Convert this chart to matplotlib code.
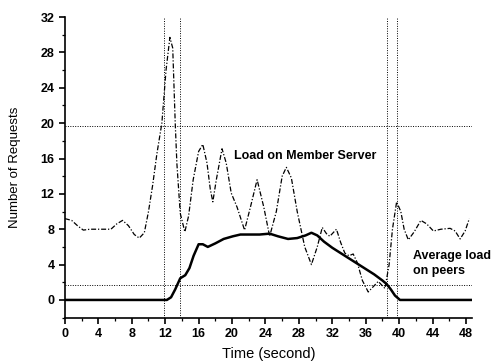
import numpy as np
import matplotlib.pyplot as plt

plt.rcParams['font.family'] = ['Liberation Sans', 'DejaVu Sans']

# Load on member server (dash line)
member_t = [0, 0.8, 1.5, 2.2, 3.0, 4.0, 5.5, 6.2, 6.9, 7.6, 8.3, 8.9, 9.5, 10.0,
            10.5, 11.0, 11.6, 12.1, 12.56, 12.9, 13.2, 13.4, 13.8, 14.35, 14.8,
            15.35, 16.0, 16.5, 17.0, 17.4, 17.7, 18.1, 18.8, 19.3, 19.9, 20.6,
            21.5, 22.2, 23.0, 23.8, 24.5, 25.3, 26.0, 26.5, 27.1, 27.8, 28.7,
            29.5, 30.2, 30.8, 31.3, 31.7, 32.1, 32.5, 33.0, 33.5, 34.0, 34.5,
            35.0, 35.6, 36.3, 36.9, 37.5, 38.0, 38.3, 38.8, 39.2, 39.7, 40.2,
            40.6, 41.1, 41.8, 42.6, 43.3, 44.1, 45.0, 46.1, 46.7, 47.3, 47.9, 48.4]
member_load = [9.2, 9.0, 8.4, 7.9, 8.0, 8.0, 8.0, 8.6, 9.0, 8.4, 7.4, 7.0, 7.6, 10.0,
               13.0, 16.5, 20.0, 26.0, 29.7, 28.5, 20.0, 15.4, 9.8, 7.7, 9.5,
               13.6, 16.8, 17.6, 15.5, 12.5, 11.1, 13.5, 17.1, 15.5, 12.1, 10.5,
               7.9, 10.5, 13.6, 10.5, 7.2, 10.0, 14.0, 15.0, 13.8, 10.0, 6.0,
               4.0, 6.0, 8.2, 7.5, 7.2, 7.6, 8.0, 6.5, 5.3, 5.0, 5.2,
               4.2, 2.2, 0.9, 1.5, 2.1, 1.6, 1.3, 4.0, 8.0, 11.1, 10.0,
               8.0, 6.8, 7.7, 9.0, 8.6, 7.8, 8.0, 8.1, 7.8, 6.9, 7.8, 9.2]

# Average load on peers (solid line)
peer_t = [0, 12.2, 12.7, 13.2, 13.8, 14.4, 14.9, 15.4, 16.0, 16.5, 17.1, 18.0,
          19.0, 20.1, 21.0, 22.0, 23.3, 24.5, 25.5, 26.7, 27.8, 28.8, 29.5,
          30.2, 31.0, 32.0, 33.0, 34.0, 35.0, 36.0, 37.0, 38.0, 38.5, 39.0,
          39.5, 40.1, 49.0]
peer_load = [0, 0, 0.3, 1.2, 2.45, 2.8, 3.6, 5.0, 6.3, 6.3, 6.0, 6.4,
             6.9, 7.2, 7.4, 7.4, 7.4, 7.5, 7.2, 6.9, 7.0, 7.3, 7.6,
             7.3, 6.6, 5.9, 5.3, 4.7, 4.1, 3.5, 2.9, 2.2, 1.8, 1.2,
             0.5, 0, 0]

# dotted guide lines
vlines = [11.9, 13.8, 38.6, 39.8]
hlines = [19.7, 1.7]

fig = plt.figure(figsize=(4.92, 3.63), dpi=100)
ax = fig.add_axes([0.132, 0.125, 0.827, 0.828])

for x in vlines:
    ax.axvline(x, color='black', lw=0.7, ls=(0, (1, 1.5)))
for y in hlines:
    ax.axhline(y, color='black', lw=0.7, ls=(0, (1, 1.5)))

ax.plot(member_t, member_load, color='black', lw=0.9, ls=(0, (4, 1.5, 1, 1.5)))
ax.plot(peer_t, peer_load, color='black', lw=1.8)

ax.text(20.2, 16.3, 'Load on Member Server', fontsize=9, fontweight='bold', va='center')
ax.text(41.7, 4.1, 'Average load\non peers', fontsize=9, fontweight='bold',
        va='center', linespacing=1.35)

ax.set_xlim(0, 48.7)
ax.set_ylim(-2, 32)
ax.set_xticks(np.arange(0, 49, 4))
ax.set_xticks(np.arange(0, 49, 2), minor=True)
ax.set_yticks(np.arange(0, 33, 4))
ax.set_yticks(np.arange(-2, 33, 2), minor=True)
ax.spines['top'].set_visible(False)
ax.spines['right'].set_visible(False)
ax.spines['left'].set_linewidth(1.2)
ax.spines['bottom'].set_linewidth(1.2)
ax.tick_params(which='major', length=4, width=1.2, labelsize=9)
ax.tick_params(which='minor', length=2.5, width=0.9)
for lbl in ax.get_xticklabels() + ax.get_yticklabels():
    lbl.set_fontweight('bold')

ax.set_xlabel('Time (second)', fontsize=10.5, labelpad=5)
ax.set_ylabel('Number of Requests', fontsize=9.5, labelpad=14)

fig.savefig('out.png', dpi=100)
